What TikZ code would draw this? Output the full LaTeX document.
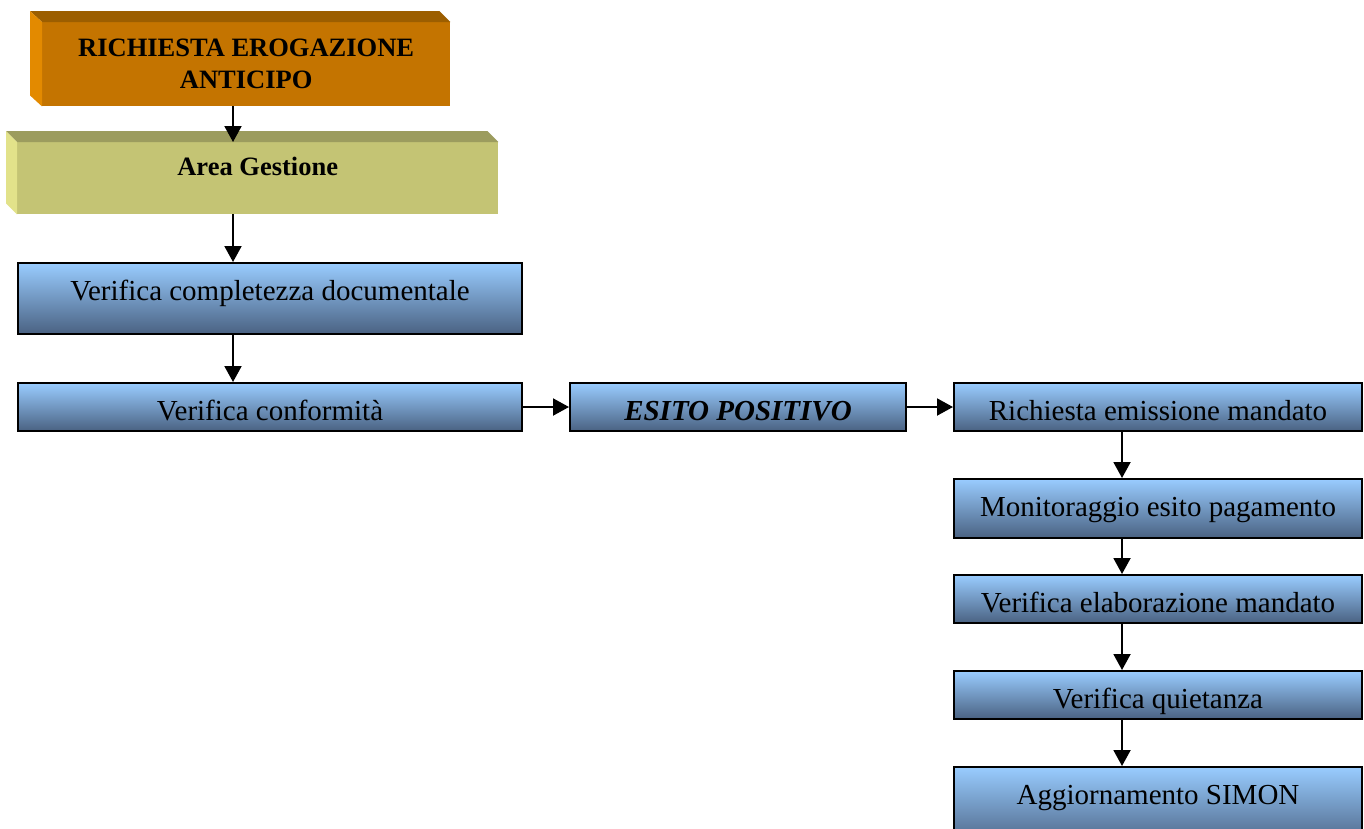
\documentclass[tikz,border=0pt]{standalone}
\usepackage{fontspec}
\setmainfont{Liberation Serif}
\usetikzlibrary{arrows.meta}
\definecolor{orfront}{HTML}{C47400}
\definecolor{ortop}{HTML}{9C5E00}
\definecolor{orleft}{HTML}{E38A00}
\definecolor{olfront}{HTML}{C4C474}
\definecolor{oltop}{HTML}{9C9C5E}
\definecolor{olleft}{HTML}{E2E28A}
\definecolor{bltop}{HTML}{99CCFF}
\definecolor{blbot}{HTML}{4A6282}
\begin{document}
\begin{tikzpicture}[x=1pt, y=-1pt,
  bluebox/.style={draw=black, line width=2pt, top color=bltop, bottom color=blbot,
    anchor=north west, inner xsep=0pt, inner ysep=0pt, text height=37pt,
    font=\fontsize{29}{33}\selectfont},
  facebox/.style={anchor=north west, inner sep=0pt, font=\fontsize{26.5}{32}\selectfont\bfseries, align=center},
  arr/.style={line width=2pt, -{Triangle[length=16pt,width=17pt]}}]

\useasboundingbox (0,0) rectangle (1364,828);
\fill[white] (0,0) rectangle (1364,828);

\coordinate (colL) at (233,0);
\coordinate (colR) at (1122,0);

\node[facebox, fill=orfront, minimum width=408pt, minimum height=84pt] (req) at (42,22) {RICHIESTA EROGAZIONE\\ANTICIPO};
\fill[ortop] (req.north west) -- ([shift={(-12,-11)}]req.north west) -- ([shift={(-11,-11)}]req.north east) -- (req.north east) -- cycle;
\fill[orleft] (req.north west) -- ([shift={(-12,-11)}]req.north west) -- ([shift={(-12,-11)}]req.south west) -- (req.south west) -- cycle;

\node[facebox, fill=olfront, minimum width=481pt, minimum height=72pt, text height=33pt, text depth=39pt] (area) at (17,142) {Area Gestione};
\fill[oltop] (area.north west) -- ([shift={(-11,-11)}]area.north west) -- ([shift={(-11,-11)}]area.north east) -- (area.north east) -- cycle;
\fill[olleft] (area.north west) -- ([shift={(-11,-11)}]area.north west) -- ([shift={(-11,-11)}]area.south west) -- (area.south west) -- cycle;

\node[bluebox, minimum width=504pt, text depth=34pt] (comp) at (17,262) {Verifica completezza documentale};
\node[bluebox, minimum width=504pt, text depth=11pt] (conf) at (17,382) {Verifica conformità};
\node[bluebox, minimum width=336pt, text depth=11pt] (esito) at (569,382) {\bfseries\itshape ESITO POSITIVO};
\node[bluebox, minimum width=408pt, text depth=11pt] (rich) at (953,382) {Richiesta emissione mandato};
\node[bluebox, minimum width=408pt, text depth=22pt] (mon) at (953,478) {Monitoraggio esito pagamento};
\node[bluebox, minimum width=408pt, text depth=11pt] (elab) at (953,574) {Verifica elaborazione mandato};
\node[bluebox, minimum width=408pt, text depth=11pt] (quiet) at (953,670) {Verifica quietanza};
\node[bluebox, minimum width=408pt, text depth=43pt] (aggi) at (953,766) {Aggiornamento SIMON};

\draw[arr] (req.south -| colL) -- (area.north -| colL);
\draw[arr] (area.south -| colL) -- (comp.north -| colL);
\draw[arr] (comp.south -| colL) -- (conf.north -| colL);
\draw[arr] (conf.east) -- (esito.west);
\draw[arr] (esito.east) -- (rich.west);
\draw[arr] (rich.south -| colR) -- (mon.north -| colR);
\draw[arr] (mon.south -| colR) -- (elab.north -| colR);
\draw[arr] (elab.south -| colR) -- (quiet.north -| colR);
\draw[arr] (quiet.south -| colR) -- (aggi.north -| colR);

\end{tikzpicture}
\end{document}
